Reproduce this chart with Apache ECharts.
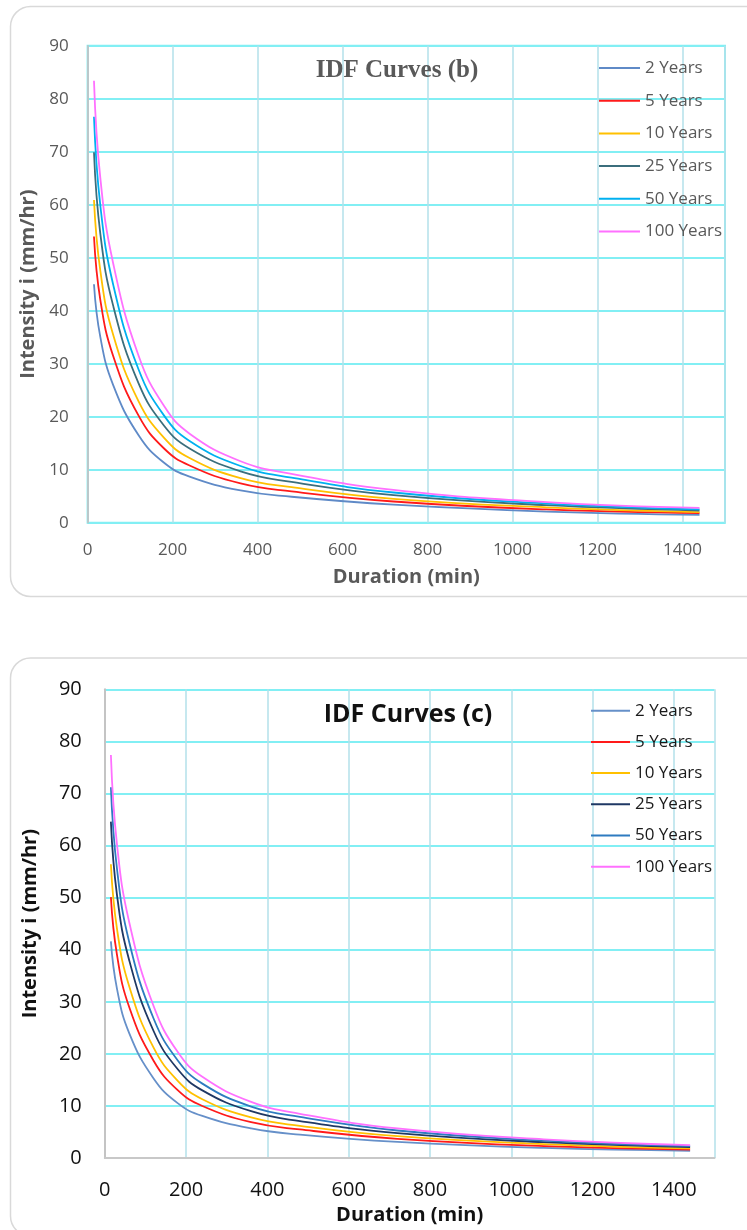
<!DOCTYPE html>
<html>
<head>
<meta charset="utf-8">
<script src="https://cdn.jsdelivr.net/npm/echarts@6/dist/echarts.min.js"></script>
<style>
html,body{margin:0;padding:0;background:#fff;}
#chartB{position:absolute;left:0;top:0;width:747px;height:615px;}
#chartC{position:absolute;left:0;top:615px;width:747px;height:615px;}
</style>
</head>
<body>
<div id="chartB"></div>
<div id="chartC"></div>
<script>
// durations (min)
var durations = [15, 30, 60, 120, 180, 240, 360, 480, 720, 1080, 1440];
var returnPeriods = ["2 Years", "5 Years", "10 Years", "25 Years", "50 Years", "100 Years"];

// IDF Curves (b), intensity mm/hr
var b2   = [45.0, 35.0, 26.0, 16.5, 11.3, 8.7, 6.1, 4.9, 3.4, 2.1, 1.5];
var b5   = [54.0, 42.0, 31.5, 20.2, 14.0, 10.8, 7.4, 5.9, 4.0, 2.5, 1.8];
var b10  = [60.9, 47.5, 35.5, 22.9, 16.0, 12.2, 8.4, 6.7, 4.5, 2.9, 2.0];
var b25  = [69.9, 54.5, 41.0, 26.3, 18.3, 14.0, 9.7, 7.7, 5.2, 3.3, 2.3];
var b50  = [76.6, 59.8, 45.0, 28.9, 20.2, 15.4, 10.7, 8.5, 5.7, 3.6, 2.5];
var b100 = [83.4, 65.0, 49.0, 31.5, 22.0, 16.8, 11.6, 9.2, 6.2, 3.9, 2.8];

// IDF Curves (c), intensity mm/hr
var c2   = [41.6, 32.5, 24.0, 15.3, 10.5, 8.1, 5.7, 4.5, 3.1, 1.95, 1.4];
var c5   = [50.1, 39.0, 29.0, 18.7, 13.0, 10.0, 6.9, 5.5, 3.7, 2.3, 1.65];
var c10  = [56.4, 44.0, 33.0, 21.2, 14.8, 11.3, 7.8, 6.2, 4.2, 2.7, 1.85];
var c25  = [64.6, 50.5, 38.0, 24.4, 17.0, 13.0, 9.0, 7.1, 4.8, 3.05, 2.1];
var c50  = [71.2, 55.5, 41.5, 26.8, 18.7, 14.3, 9.9, 7.9, 5.3, 3.35, 2.3];
var c100 = [77.4, 60.2, 45.3, 29.2, 20.3, 15.6, 10.8, 8.5, 5.7, 3.6, 2.5];

var colorsB = ["#5f8ac7", "#ff1a1a", "#ffc000", "#3b6e7c", "#00b0f0", "#ff70ff"];
var colorsC = ["#6690c9", "#ff1a1a", "#ffc000", "#1f3864", "#2e7bc0", "#ff70ff"];

var HGRID = "#82eff4";
var VGRID = "#b3e0ea";

function pairs(vals) {
	return durations.map(function(d, i) {
		return [d, vals[i]];
	});
}

function plain(v) {
	return String(v);
}

function makeSeries(sets, colors) {
	return sets.map(function(vals, i) {
		return {
			name: returnPeriods[i],
			type: "line",
			data: pairs(vals),
			smooth: 0.45,
			symbol: "none",
			color: colors[i],
			lineStyle: { width: 1.8, color: colors[i] },
			z: 3
		};
	});
}

var chartB = echarts.init(document.getElementById("chartB"));
chartB.setOption({
	animation: false,
	graphic: [
		{
			type: "rect",
			shape: { x: 10.5, y: 6.5, width: 780, height: 590, r: 20 },
			style: { fill: "none", stroke: "#d9d9d9", lineWidth: 1.5 },
			z: 0
		},
		{
			type: "text",
			x: 397, y: 71,
			style: {
				text: "IDF Curves (b)",
				font: "bold 25px 'Liberation Serif', serif",
				fill: "#595959",
				align: "center",
				verticalAlign: "middle"
			},
			z: 5
		}
	],
	legend: {
		orient: "vertical",
		left: 594,
		top: 54,
		icon: "rect",
		itemWidth: 41,
		itemHeight: 2,
		itemGap: 14.7,
		data: returnPeriods,
		textStyle: { fontFamily: "Open Sans", fontSize: 17, color: "#595959", lineHeight: 18 }
	},
	grid: {
		left: 87.6, right: 22, top: 45.7, bottom: 92.3,
		show: true, borderColor: HGRID, borderWidth: 2
	},
	xAxis: {
		type: "value",
		min: 0, max: 1500, interval: 200,
		name: "Duration (min)",
		nameLocation: "middle",
		nameGap: 45,
		nameTextStyle: { fontFamily: "Open Sans", fontWeight: "bold", fontSize: 20, color: "#595959" },
		axisLine: { show: false },
		axisTick: { show: false },
		axisLabel: { formatter: plain, showMaxLabel: false, margin: 19, fontFamily: "Open Sans", fontSize: 17, color: "#595959" },
		splitLine: { show: true, lineStyle: { color: VGRID, width: 1.5 } }
	},
	yAxis: {
		type: "value",
		min: 0, max: 90, interval: 10,
		name: "Intensity i (mm/hr)",
		nameLocation: "middle",
		nameRotate: 90,
		nameGap: 45,
		nameTextStyle: { fontFamily: "Open Sans", fontWeight: "bold", fontSize: 20, color: "#595959" },
		axisLine: { show: true, lineStyle: { color: "#bfbfbf", width: 1.5 } },
		axisTick: { show: false },
		axisLabel: { margin: 19, fontFamily: "Open Sans", fontSize: 17, color: "#595959" },
		splitLine: { show: true, lineStyle: { color: HGRID, width: 2 } }
	},
	series: makeSeries([b2, b5, b10, b25, b50, b100], colorsB)
});

var chartC = echarts.init(document.getElementById("chartC"));
chartC.setOption({
	animation: false,
	graphic: [
		{
			type: "rect",
			shape: { x: 10.5, y: 43, width: 780, height: 578, r: 20 },
			style: { fill: "none", stroke: "#d9d9d9", lineWidth: 1.5 },
			z: 0
		},
		{
			type: "text",
			x: 408, y: 100,
			style: {
				text: "IDF Curves (c)",
				font: "bold 25px 'Open Sans', sans-serif",
				fill: "#111",
				align: "center",
				verticalAlign: "middle"
			},
			z: 5
		}
	],
	legend: {
		orient: "vertical",
		left: 586,
		top: 81.7,
		icon: "rect",
		itemWidth: 39,
		itemHeight: 2,
		itemGap: 13.2,
		data: returnPeriods,
		textStyle: { fontFamily: "Open Sans", fontSize: 17, color: "#1a1a1a", lineHeight: 18 }
	},
	grid: { left: 104.8, right: 32.5, top: 74.3, bottom: 67.5 },
	xAxis: {
		type: "value",
		min: 0, max: 1500, interval: 200,
		name: "Duration (min)",
		nameLocation: "middle",
		nameGap: 44.5,
		nameTextStyle: { fontFamily: "Open Sans", fontWeight: "bold", fontSize: 20, color: "#111" },
		axisLine: { show: true, lineStyle: { color: "#c8c8c8", width: 2 } },
		axisTick: { show: false },
		axisLabel: { formatter: plain, showMaxLabel: false, margin: 22, fontFamily: "Open Sans", fontSize: 20, color: "#111" },
		splitLine: { show: true, lineStyle: { color: VGRID, width: 1.5 } }
	},
	yAxis: {
		type: "value",
		min: 0, max: 90, interval: 10,
		name: "Intensity i (mm/hr)",
		nameLocation: "middle",
		nameRotate: 90,
		nameGap: 65,
		nameTextStyle: { fontFamily: "Open Sans", fontWeight: "bold", fontSize: 20, color: "#111" },
		axisLine: { show: true, lineStyle: { color: "#c4c4c4", width: 2 } },
		axisTick: { show: false },
		axisLabel: { margin: 23, fontFamily: "Open Sans", fontSize: 20, color: "#111" },
		splitLine: { show: true, lineStyle: { color: HGRID, width: 2 } }
	},
	series: makeSeries([c2, c5, c10, c25, c50, c100], colorsC)
});
</script>
</body>
</html>
